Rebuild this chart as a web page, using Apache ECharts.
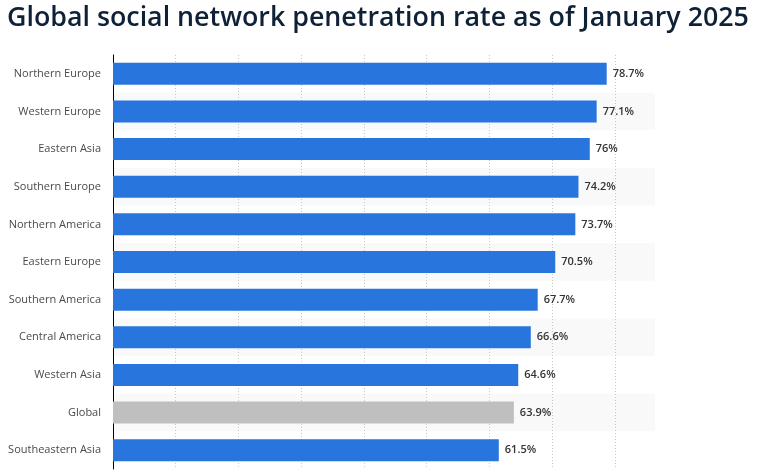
<!DOCTYPE html>
<html>
<head>
<meta charset="utf-8">
<script src="https://cdn.jsdelivr.net/npm/echarts@6/dist/echarts.min.js"></script>
<style>
html,body{margin:0;padding:0;background:#fff;}
#c{width:762px;height:475px;}
</style>
</head>
<body>
<div id="c"></div>
<script>
const categories = ["Northern Europe","Western Europe","Eastern Asia","Southern Europe","Northern America","Eastern Europe","Southern America","Central America","Western Asia","Global","Southeastern Asia"];
const values = [78.7, 77.1, 76, 74.2, 73.7, 70.5, 67.7, 66.6, 64.6, 63.9, 61.5];
const highlight = "Global";

const chart = echarts.init(document.getElementById('c'));
chart.setOption({
  animation: false,
  title: {
    text: "Global social network penetration rate as of January 2025",
    left: 2, top: 0,
    textStyle: {fontFamily: "Open Sans", fontSize: 26.8, fontWeight: 600, color: "#0f2136"}
  },
  grid: {left: 113, top: 55, width: 542, height: 414, containLabel: false},
  xAxis: {
    type: 'value', min: 0, max: 86.4, interval: 10,
    axisLabel: {show: false}, axisLine: {show: false}, axisTick: {show: false},
    splitLine: {show: true, showMaxLine: false, showMinLine: false, lineStyle: {type: [1, 2], color: '#c8c8c8', width: 1}}
  },
  yAxis: {
    type: 'category', data: categories, inverse: true,
    axisLine: {show: true, lineStyle: {color: '#000', width: 1}},
    axisTick: {show: false},
    axisLabel: {fontFamily: "Open Sans", fontSize: 11, color: '#4a4a4a', margin: 12},
    splitArea: {show: true, interval: 0, areaStyle: {color: ['rgba(0,0,0,0)', '#f9f9f9']}}
  },
  series: [{
    type: 'bar',
    data: values.map((v, i) => ({value: v, itemStyle: {color: categories[i] === highlight ? '#bfbfbf' : '#2775dd'}})),
    barWidth: 22,
    label: {
      show: true, position: 'right', distance: 6,
      formatter: p => p.value + '%',
      fontFamily: "Open Sans", fontSize: 11, fontWeight: 600, color: '#333'
    }
  }]
});
</script>
</body>
</html>
